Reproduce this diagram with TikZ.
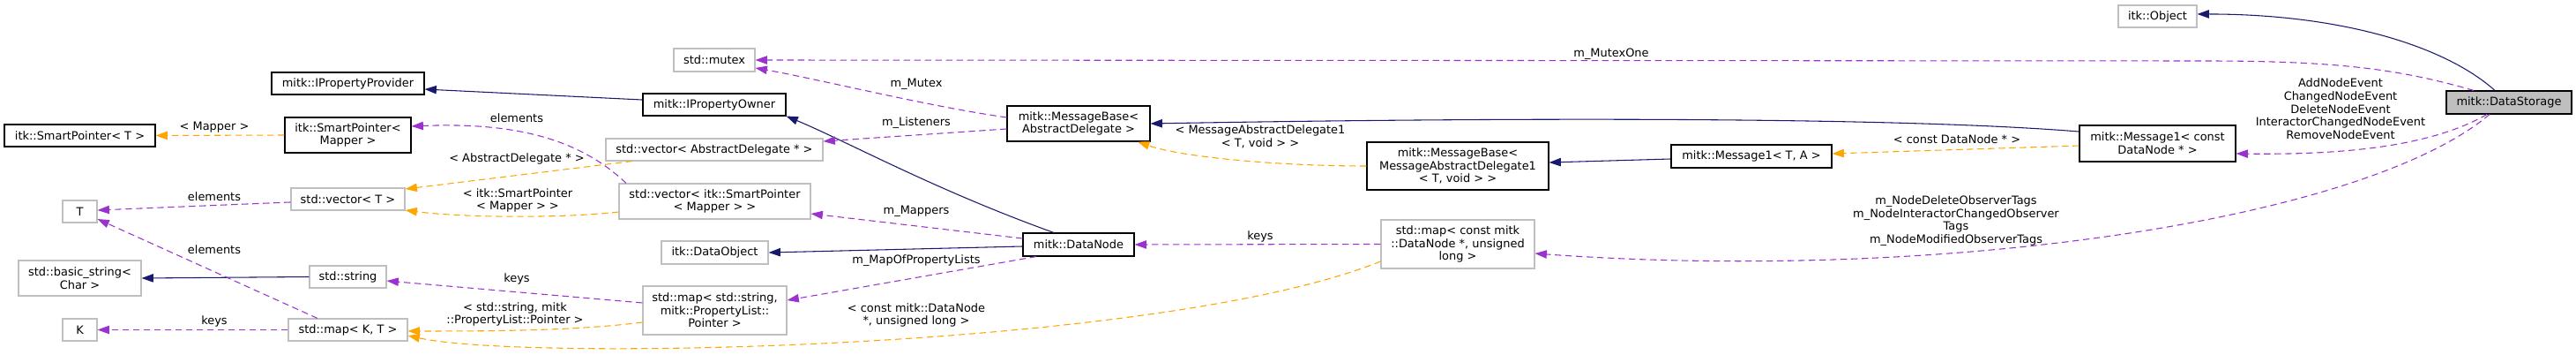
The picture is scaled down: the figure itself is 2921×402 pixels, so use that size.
\documentclass[tikz,border=0pt]{standalone}
\usepackage{fontspec}
\setmainfont{DejaVu Sans}
\usetikzlibrary{arrows.meta}
\definecolor{inhblue}{HTML}{191970}
\definecolor{memviolet}{HTML}{9A32CD}
\definecolor{tplorange}{HTML}{FFA500}
\definecolor{extgray}{HTML}{BFBFBF}

\begin{document}
\begin{tikzpicture}[x=0.75pt, y=-0.75pt, >={Triangle[length=10pt,width=7pt]},
font=\fontsize{9.7pt}{11pt}\selectfont, line width=0.8pt,
cls/.style={draw=black, fill=white, align=center, inner sep=0pt},
ext/.style={draw=extgray, fill=white, align=center, inner sep=0pt},
sz/.style 2 args={minimum width=#1*0.75pt, minimum height=#2*0.75pt},
inherit/.style={->, draw=inhblue},
member/.style={->, draw=memviolet, dash pattern=on 5.5pt off 3.5pt},
templ/.style={->, draw=tplorange, dash pattern=on 5.5pt off 3.5pt},
lbl/.style={align=center, inner sep=0pt}]
  \useasboundingbox (0,0) rectangle (2921,402);
  \node[cls, sz={173}{25}] (IPropProv) at (394.5,94.5) {mitk::IPropertyProvider};
  \node[cls, sz={171}{25}] (SPT) at (90.5,153.5) {itk::SmartPointer< T >};
  \node[cls, sz={143}{40}] (SPMapper) at (394.5,153) {itk::SmartPointer<\\Mapper >};
  \node[ext, sz={39}{25}] (T) at (90.5,239.5) {T};
  \node[ext, sz={129}{25}] (vecT) at (394.5,225.5) {std::vector< T >};
  \node[ext, sz={139}{40}] (basicStr) at (90.5,315) {std::basic\_string<\\Char >};
  \node[ext, sz={87}{25}] (stdString) at (394.5,313.5) {std::string};
  \node[ext, sz={39}{25}] (K) at (90.5,373.5) {K};
  \node[ext, sz={135}{25}] (mapKT) at (394.5,373.5) {std::map< K, T >};
  \node[ext, sz={92}{26}] (mutex) at (810,68) {std::mutex};
  \node[cls, sz={162}{25}] (IPropOwner) at (810,118.5) {mitk::IPropertyOwner};
  \node[ext, sz={246}{25}] (vecAD) at (810,169.5) {std::vector< AbstractDelegate * >};
  \node[ext, sz={217}{40}] (vecSP) at (810.5,228) {std::vector< itk::SmartPointer\\< Mapper > >};
  \node[ext, sz={121}{26}] (DataObject) at (810.5,286) {itk::DataObject};
  \node[ext, sz={163}{55}] (mapStr) at (810.5,351.5) {std::map< std::string,\\mitk::PropertyList::\\Pointer >};
  \node[cls, sz={162}{40}] (MsgBaseAD) at (1223,140) {mitk::MessageBase<\\AbstractDelegate >};
  \node[cls, sz={126}{26}] (DataNode) at (1223,277) {mitk::DataNode};
  \node[cls, sz={206}{54}] (MsgBaseMAD) at (1653,188) {mitk::MessageBase<\\MessageAbstractDelegate1\\< T, void > >};
  \node[ext, sz={174}{55}] (mapDN) at (1653,276.5) {std::map< const mitk\\::DataNode *, unsigned\\long >};
  \node[cls, sz={182}{26}] (Msg1TA) at (1986,177) {mitk::Message1< T, A >};
  \node[cls, sz={177}{41}] (Msg1DN) at (2446.5,162.5) {mitk::Message1< const\\DataNode * >};
  \node[ext, sz={89}{25}] (itkObject) at (2446.5,18.5) {itk::Object};
  \node[cls, sz={142}{26}, fill=extgray] (DataStorage) at (2845,116) {mitk::DataStorage};

  \draw[inherit] ([yshift=4.1pt]IPropOwner.west) -- ([yshift=-4.9pt]IPropProv.east);
  \draw[inherit] ([xshift=-21pt]DataNode.north) .. controls (1060,215) and (960,160) .. (IPropOwner.south east);
  \draw[inherit] ([yshift=-1.5pt]DataNode.west) -- (DataObject.east);
  \draw[inherit] (stdString.west) -- (basicStr.east);
  \draw[inherit] ([yshift=-2.25pt]Msg1TA.west) -- ([yshift=3pt]MsgBaseMAD.east);
  \draw[inherit] ([yshift=10.1pt]Msg1DN.west) .. controls (2150,132) and (1700,133) .. (MsgBaseAD.east);
  \draw[inherit] ([xshift=-12pt]DataStorage.north) .. controls (2770,50) and (2650,16) .. ([yshift=1.9pt]itkObject.east);

  \draw[member] ([yshift=5.25pt]DataNode.west) -- ([yshift=-10.5pt]vecSP.east);
  \draw[member] ([xshift=-36pt]DataNode.south) -- ([yshift=8.6pt]mapStr.east);
  \draw[member] (mapDN.west) -- (DataNode.east);
  \draw[member] ([yshift=6.4pt]mapStr.west) -- ([yshift=-3.4pt]stdString.east);
  \draw[member] (mapKT.west) -- (K.east);
  \draw[member] ([xshift=-25.9pt]mapKT.north) -- ([yshift=-6.4pt]T.east);
  \draw[member] ([yshift=-2.6pt]vecT.west) -- ([yshift=1.1pt]T.east);
  \draw[member] ([xshift=-75.4pt]vecSP.north) .. controls (660,160) and (590,138) .. ([yshift=7.5pt]SPMapper.east);
  \draw[member] ([yshift=5.25pt]MsgBaseAD.west) .. controls (1050,120) and (930,90) .. ([yshift=-6.75pt]mutex.east);
  \draw[member] ([yshift=-4.5pt]MsgBaseAD.west) -- ([yshift=7.1pt]vecAD.east);
  \draw[member] ([xshift=-18.75pt]DataStorage.south) .. controls (2770,158) and (2690,176) .. ([yshift=-8.6pt]Msg1DN.east);
  \draw[member] ([xshift=-30pt]DataStorage.north) .. controls (2720,78) and (2650,69) .. (2500,69) -- (mutex.east);
  \draw[member] ([xshift=-16.5pt]DataStorage.south) .. controls (2680,250) and (2200,320) .. ([yshift=-7.9pt]mapDN.east);

  \draw[templ] (SPMapper.west) -- (SPT.east);
  \draw[templ] ([xshift=-69.75pt]vecAD.south) -- ([yshift=8.6pt]vecT.east);
  \draw[templ] ([yshift=-9pt]vecSP.west) .. controls (640,247) and (530,247) .. ([yshift=-9.4pt]vecT.east);
  \draw[templ] ([yshift=-10.1pt]mapStr.west) .. controls (650,375) and (550,375) .. ([yshift=-1.1pt]mapKT.east);
  \draw[templ] ([yshift=-14.6pt]mapDN.west) .. controls (1320,395) and (600,410) .. ([yshift=-4.9pt]mapKT.east);
  \draw[templ] (MsgBaseMAD.west) .. controls (1450,188) and (1340,178) .. ([xshift=50.25pt]MsgBaseAD.south);
  \draw[templ] ([yshift=-1.9pt]Msg1DN.west) -- ([yshift=2.25pt]Msg1TA.east);

  \node[lbl] (lMapper) at (243,144) {< Mapper >};
  \node[lbl] (lElemVec) at (243,223) {elements};
  \node[lbl] (lElemMap) at (243,283) {elements};
  \node[lbl] (lKeysK) at (243,364) {keys};
  \node[lbl] (lElemSP) at (586,134) {elements};
  \node[lbl] (lAbsDel) at (586,180) {< AbstractDelegate * >};
  \node[lbl] (lSPMapper) at (587,227) {< itk::SmartPointer\\< Mapper > >};
  \node[lbl] (lKeysStr) at (586,316) {keys};
  \node[lbl] (lStrProp) at (584,356) {< std::string, mitk\\::PropertyList::Pointer >};
  \node[lbl] (lMutex) at (1039,95) {m\_Mutex};
  \node[lbl] (lListeners) at (1039,139) {m\_Listeners};
  \node[lbl] (lMappers) at (1039,239) {m\_Mappers};
  \node[lbl] (lPropLists) at (1039,295) {m\_MapOfPropertyLists};
  \node[lbl] (lConstDN) at (1039,357) {< const mitk::DataNode\\*, unsigned long >};
  \node[lbl] (lMAD) at (1429,155) {< MessageAbstractDelegate1\\< T, void > >};
  \node[lbl] (lKeysDN) at (1429,268) {keys};
  \node[lbl] (lMutexOne) at (1827,61) {m\_MutexOne};
  \node[lbl] (lConstDNp) at (2219,158) {< const DataNode * >};
  \node[lbl] (lTags) at (2218,250) {m\_NodeDeleteObserverTags\\m\_NodeInteractorChangedObserver\\Tags\\m\_NodeModifiedObserverTags};
  \node[lbl] (lEvents) at (2654,123.5) {AddNodeEvent\\ChangedNodeEvent\\DeleteNodeEvent\\InteractorChangedNodeEvent\\RemoveNodeEvent};
\end{tikzpicture}
\end{document}
